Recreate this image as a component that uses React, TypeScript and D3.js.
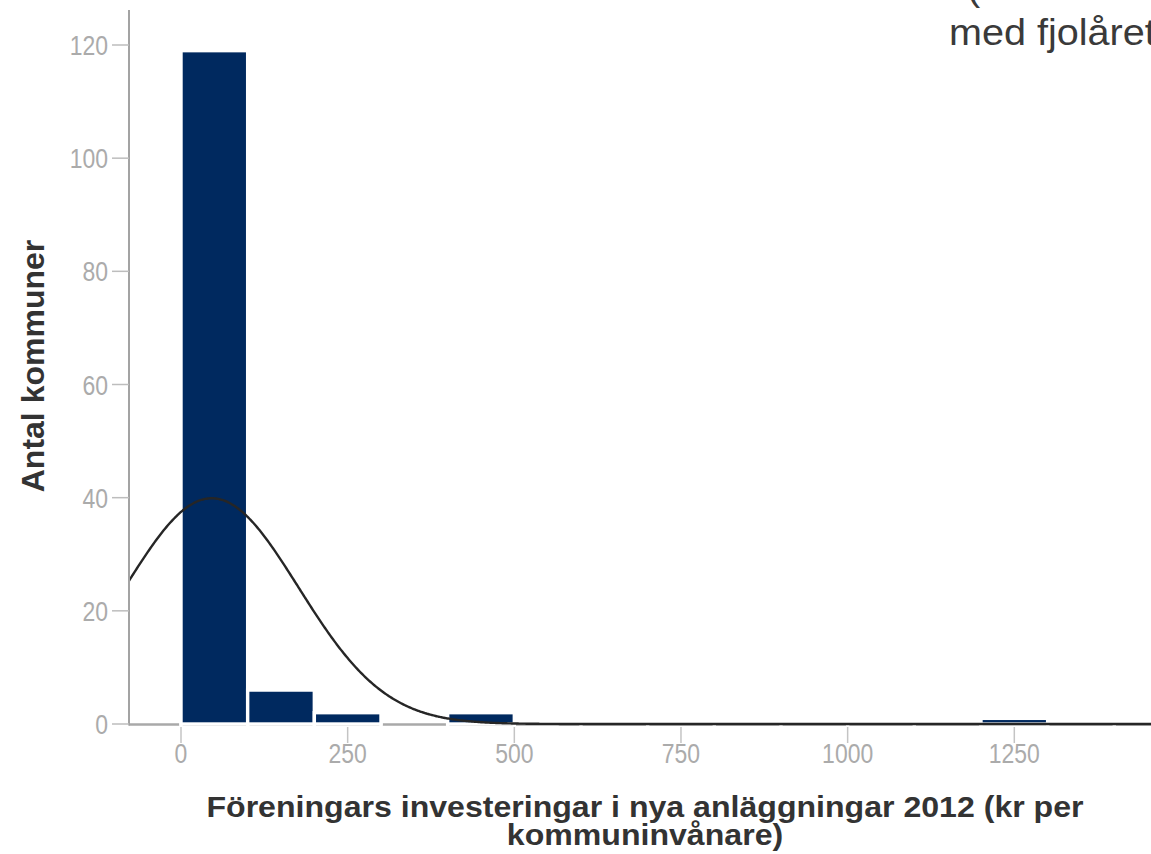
import React from 'react';
import * as d3 from 'd3';

const binStarts = [0, 100, 200, 300, 400, 500, 600, 700, 800, 900, 1000, 1100, 1200, 1300];
const binCounts = [119, 6, 2, 0, 2, 0, 0, 0, 0, 0, 0, 0, 1, 0];
const binWidth = 100;
const xTicks = [0, 250, 500, 750, 1000, 1250];
const yTicks = [0, 20, 40, 60, 80, 100, 120];
const normalMean = 46;
const normalSd = 130;
const normalN = 130;
const xTitleLines = ['Föreningars investeringar i nya anläggningar 2012 (kr per', 'kommuninvånare)'];
const yTitle = 'Antal kommuner';
const cornerLines = ['(', 'med fjolåret'];

const FONT = "'Liberation Sans', Arial, Helvetica, sans-serif";

export default function App() {
  const W = 1151;
  const H = 854;
  const x = d3.scaleLinear().domain([0, 1250]).range([181, 1014.3]);
  const y = d3.scaleLinear().domain([0, 120]).range([724, 45]);
  const axisLeft = 129;
  const xMin = x.invert(axisLeft);
  const xMax = x.invert(W + 2);
  const pdf = (v: number) =>
    ((normalN * binWidth) / (normalSd * Math.sqrt(2 * Math.PI))) *
    Math.exp(-0.5 * ((v - normalMean) / normalSd) ** 2);
  const curvePts: [number, number][] = d3.range(xMin, xMax, 2).map((v) => [v, pdf(v)]);
  curvePts.push([xMax, pdf(xMax)]);
  const line = d3
    .line<[number, number]>()
    .x((d) => x(d[0]))
    .y((d) => y(d[1]))
    .curve(d3.curveMonotoneX);

  const edges = [...binStarts, binStarts[binStarts.length - 1] + binWidth];
  const navy = '#00295f';

  return (
    <svg
      width={W}
      height={H}
      style={{ position: 'absolute', left: 0, top: 0, display: 'block', background: '#fff' }}
      fontFamily={FONT}
    >
      <rect x={0} y={0} width={W} height={H} fill="#fff" />
      {/* corner text (cut off by the frame, as in the source) */}
      <text transform="translate(967, 0) scale(1.07, 1)" fontSize={37} fill="#3a3a3a">
        {cornerLines[0]}
      </text>
      <text transform="translate(949, 45) scale(1.07, 1)" fontSize={37} fill="#3a3a3a">
        {cornerLines[1]}
      </text>

      {/* baseline */}
      <line x1={axisLeft} x2={W} y1={y(0) + 0.5} y2={y(0) + 0.5} stroke="#a9a9a9" strokeWidth={2.5} />
      {edges.map((e, i) => (
        <rect key={'g' + i} x={x(e) - 1.7} y={y(0) - 3} width={3.4} height={6} fill="#fff" />
      ))}

      {/* bars */}
      {binStarts.map((s, i) =>
        binCounts[i] > 0 ? (
          <rect
            key={'b' + i}
            x={x(s)}
            y={y(binCounts[i])}
            width={x(s + binWidth) - x(s)}
            height={y(0) - y(binCounts[i])}
            fill={navy}
            stroke="#fff"
            strokeWidth={3.4}
          />
        ) : null
      )}

      {/* normal curve */}
      <path d={line(curvePts) || ''} fill="none" stroke="#262626" strokeWidth={2.4} />

      {/* y axis */}
      <line x1={axisLeft} x2={axisLeft} y1={10} y2={y(0) + 1.5} stroke="#a3a3a3" strokeWidth={2} />
      {yTicks.map((t) => (
        <g key={'yt' + t}>
          <line x1={112} x2={axisLeft} y1={y(t)} y2={y(t)} stroke="#bdbdbd" strokeWidth={1.5} />
          <text
            transform={`translate(108, ${y(t) + 10}) scale(0.82, 1)`}
            textAnchor="end"
            fontSize={28}
            fill="#ababab"
          >
            {t}
          </text>
        </g>
      ))}

      {/* x ticks */}
      {xTicks.map((t) => (
        <g key={'xt' + t}>
          <line x1={x(t)} x2={x(t)} y1={727} y2={743} stroke="#c4c4c4" strokeWidth={1.5} />
          <text
            transform={`translate(${x(t)}, 763) scale(0.82, 1)`}
            textAnchor="middle"
            fontSize={28}
            fill="#ababab"
          >
            {t}
          </text>
        </g>
      ))}

      {/* titles */}
      <text transform="translate(645, 817) scale(1.07, 1)" textAnchor="middle" fontSize={30} fontWeight="bold" fill="#333">
        {xTitleLines[0]}
      </text>
      <text transform="translate(645, 845) scale(1.07, 1)" textAnchor="middle" fontSize={30} fontWeight="bold" fill="#333">
        {xTitleLines[1]}
      </text>
      <text
        transform="translate(44, 366) rotate(-90)"
        textAnchor="middle"
        fontSize={32}
        fontWeight="bold"
        fill="#333"
      >
        {yTitle}
      </text>
    </svg>
  );
}
